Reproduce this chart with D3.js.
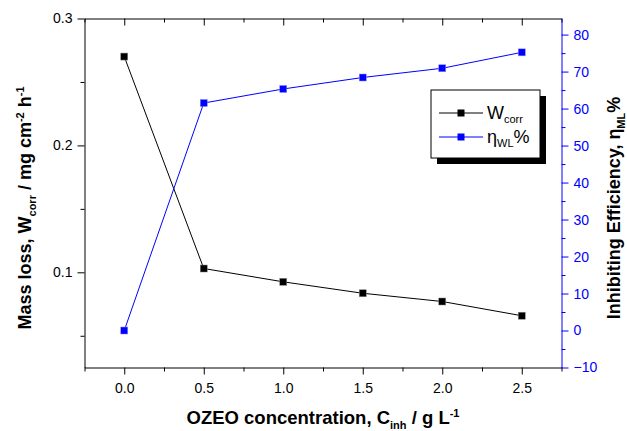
<!DOCTYPE html>
<html>
<head>
<meta charset="utf-8">
<script src="https://cdn.jsdelivr.net/npm/d3@7"></script>
<style>
  body { margin: 0; background: #fff; }
  text { font-family: "Liberation Sans", Arial, sans-serif; }
</style>
</head>
<body>
<script>
// data
var conc = [0.0, 0.5, 1.0, 1.5, 2.0, 2.5];
var wcorr = [0.270, 0.103, 0.0925, 0.0835, 0.077, 0.0658];
var eta = [0, 61.5, 65.3, 68.4, 70.9, 75.2];
var xTicks = [0, 0.5, 1.0, 1.5, 2.0, 2.5];
var yTicks = [0.1, 0.2, 0.3];
var y2Ticks = [-10, 0, 10, 20, 30, 40, 50, 60, 70, 80];

var svgWidth = 627, svgHeight = 431;
// plot frame
var plotL = 84.5, plotT = 18.5, plotR = 561.5, plotB = 367.5;

var svg = d3.select("body").append("svg")
  .attr("width", svgWidth)
  .attr("height", svgHeight);

var x = d3.scaleLinear().domain([-0.25, 2.75]).range([plotL, plotR]);
var y = d3.scaleLinear().domain([0.025, 0.3]).range([plotB, plotT]);
var y2 = d3.scaleLinear().domain([-10, 84.35]).range([plotB, plotT]);

function styleAxis(g, color) {
  g.selectAll("path, line").attr("stroke", color).attr("stroke-width", 1);
  g.selectAll("text").attr("fill", color).style("font-size", "14px")
    .style("font-family", "Liberation Sans, Arial, sans-serif");
}

// minor ticks
var xMinor = [-0.25, 0.25, 0.75, 1.25, 1.75, 2.25, 2.75];
var yMinor = [0.05, 0.15, 0.25];
var y2Minor = [-5, 5, 15, 25, 35, 45, 55, 65, 75];

// bottom axis
var gx = svg.append("g").attr("transform", `translate(0,${plotB})`)
  .call(d3.axisBottom(x).tickValues(xTicks).tickFormat(d3.format(".1f")).tickSize(7).tickSizeOuter(0).tickPadding(9));
styleAxis(gx, "#000");
svg.append("g").attr("transform", `translate(0,${plotB})`)
  .call(d3.axisBottom(x).tickValues(xMinor).tickFormat("").tickSize(4).tickSizeOuter(0))
  .call(g => g.select(".domain").remove())
  .call(g => styleAxis(g, "#000"));

// top axis (ticks inward)
var gt = svg.append("g").attr("transform", `translate(0,${plotT})`)
  .call(d3.axisBottom(x).tickValues(xTicks).tickFormat("").tickSize(7).tickSizeOuter(0));
styleAxis(gt, "#000");
svg.append("g").attr("transform", `translate(0,${plotT})`)
  .call(d3.axisBottom(x).tickValues(xMinor).tickFormat("").tickSize(4).tickSizeOuter(0))
  .call(g => g.select(".domain").remove())
  .call(g => styleAxis(g, "#000"));

// left axis
var gy = svg.append("g").attr("transform", `translate(${plotL},0)`)
  .call(d3.axisLeft(y).tickValues(yTicks).tickFormat(d3.format(".1f")).tickSize(7).tickSizeOuter(0).tickPadding(5));
styleAxis(gy, "#000");
svg.append("g").attr("transform", `translate(${plotL},0)`)
  .call(d3.axisLeft(y).tickValues(yMinor).tickFormat("").tickSize(4).tickSizeOuter(0))
  .call(g => g.select(".domain").remove())
  .call(g => styleAxis(g, "#000"));

// right axis (blue)
var gy2 = svg.append("g").attr("transform", `translate(${plotR},0)`)
  .call(d3.axisRight(y2).tickValues(y2Ticks).tickSize(7).tickSizeOuter(0).tickPadding(5));
styleAxis(gy2, "#0000ff");
svg.append("g").attr("transform", `translate(${plotR},0)`)
  .call(d3.axisRight(y2).tickValues(y2Minor).tickFormat("").tickSize(4).tickSizeOuter(0))
  .call(g => g.select(".domain").remove())
  .call(g => styleAxis(g, "#0000ff"));

// series
var wData = conc.map((c, i) => [c, wcorr[i]]);
var eData = conc.map((c, i) => [c, eta[i]]);

svg.append("path").datum(wData)
  .attr("fill", "none").attr("stroke", "#000").attr("stroke-width", 1)
  .attr("d", d3.line().x(d => x(d[0])).y(d => y(d[1])));
svg.append("path").datum(eData)
  .attr("fill", "none").attr("stroke", "#0000ff").attr("stroke-width", 1)
  .attr("d", d3.line().x(d => x(d[0])).y(d => y2(d[1])));

var ms = 7;
svg.selectAll(".wpt").data(wData).enter().append("rect")
  .attr("x", d => x(d[0]) - ms / 2).attr("y", d => y(d[1]) - ms / 2)
  .attr("width", ms).attr("height", ms)
  .attr("fill", "#000").attr("stroke", "#888").attr("stroke-width", 0.5);
svg.selectAll(".ept").data(eData).enter().append("rect")
  .attr("x", d => x(d[0]) - ms / 2).attr("y", d => y2(d[1]) - ms / 2)
  .attr("width", ms).attr("height", ms)
  .attr("fill", "#0000ff").attr("stroke", "#8888ff").attr("stroke-width", 0.5);

// legend
var lg = svg.append("g").attr("transform", "translate(431,90)");
lg.append("rect").attr("x", 6).attr("y", 6).attr("width", 109).attr("height", 68).attr("fill", "#000");
lg.append("rect").attr("x", 0).attr("y", 0).attr("width", 109).attr("height", 68)
  .attr("fill", "#fff").attr("stroke", "#000").attr("stroke-width", 1);
var rows = [
  {color: "#000", main: "W", sub: "corr", tail: "", mark: "#000", y: 23},
  {color: "#0000ff", main: "\u03b7", sub: "WL", tail: "%", mark: "#0000ff", y: 47}
];
rows.forEach(r => {
  lg.append("line").attr("x1", 8).attr("x2", 52).attr("y1", r.y).attr("y2", r.y)
    .attr("stroke", r.color).attr("stroke-width", 1);
  lg.append("rect").attr("x", 30 - ms / 2).attr("y", r.y - ms / 2).attr("width", ms).attr("height", ms)
    .attr("fill", r.mark);
  var t = lg.append("text").attr("x", 56).attr("y", r.y + 6).style("font-size", "18px").attr("fill", "#000");
  t.append("tspan").text(r.main);
  t.append("tspan").attr("dy", 4).style("font-size", "11px").text(r.sub);
  if (r.tail) t.append("tspan").attr("dy", -4).text(r.tail);
});

// axis titles
var xt = svg.append("text").attr("x", (plotL + plotR) / 2).attr("y", 424)
  .attr("text-anchor", "middle").style("font-size", "18.5px").style("font-weight", "bold");
xt.append("tspan").text("OZEO concentration, C");
xt.append("tspan").attr("dy", 5).style("font-size", "11px").text("inh");
xt.append("tspan").attr("dy", -5).text(" / g L");
xt.append("tspan").attr("dy", -7).style("font-size", "11px").text("-1");

var yt = svg.append("text").attr("transform", "translate(31,208) rotate(-90)")
  .attr("text-anchor", "middle").style("font-size", "18px").style("font-weight", "bold");
yt.append("tspan").text("Mass loss, W");
yt.append("tspan").attr("dy", 5).style("font-size", "11px").text("corr");
yt.append("tspan").attr("dy", -5).text(" / mg cm");
yt.append("tspan").attr("dy", -7).style("font-size", "11px").text("-2");
yt.append("tspan").attr("dy", 7).text(" h");
yt.append("tspan").attr("dy", -7).style("font-size", "11px").text("-1");

var y2t = svg.append("text").attr("transform", "translate(620,208) rotate(-90)")
  .attr("text-anchor", "middle").style("font-size", "18px").style("font-weight", "bold");
y2t.append("tspan").text("Inhibiting Efficiency, \u03b7");
y2t.append("tspan").attr("dy", 5).style("font-size", "11px").text("ML");
y2t.append("tspan").attr("dy", -5).text("%");
</script>
</body>
</html>
